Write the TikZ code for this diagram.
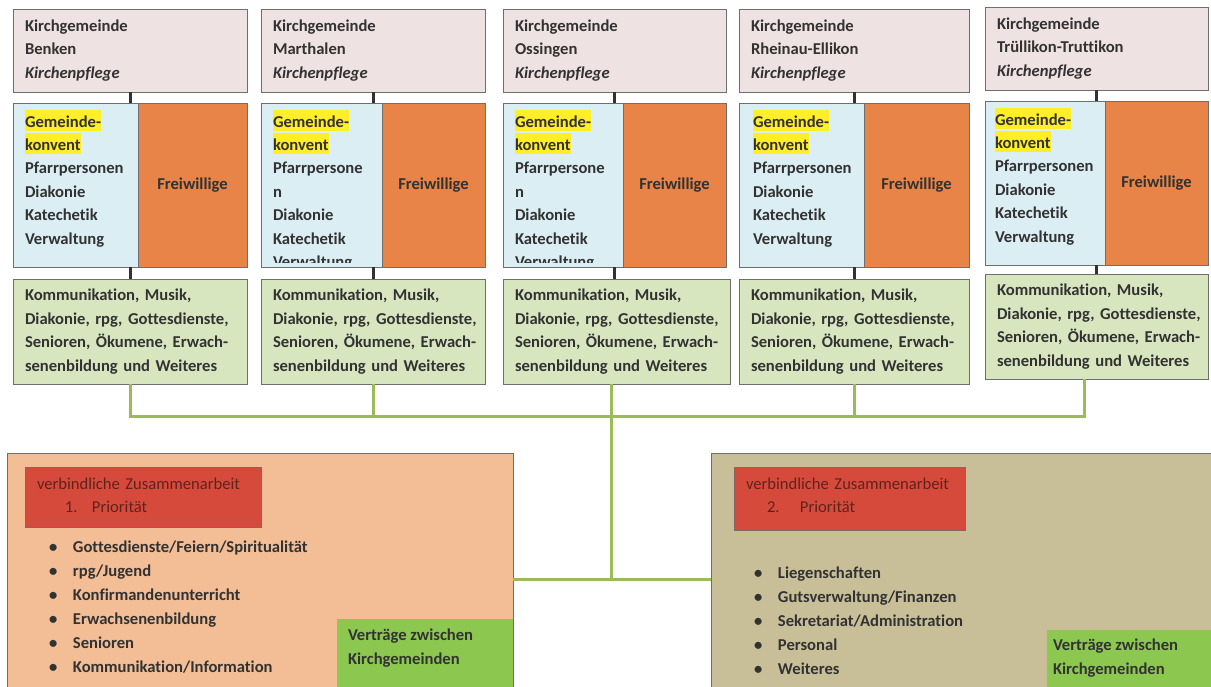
\documentclass[tikz,border=0pt]{standalone}
\usepackage{fontspec}
\setmainfont{Carlito}[Ligatures=NoCommon]
\usetikzlibrary{positioning}

\definecolor{pflege}{RGB}{239,226,226}
\definecolor{konvent}{RGB}{219,238,244}
\definecolor{freiwillig}{RGB}{233,132,72}
\definecolor{aufgabe}{RGB}{216,230,192}
\definecolor{prioA}{RGB}{243,190,150}
\definecolor{prioB}{RGB}{200,191,152}
\definecolor{titelrot}{RGB}{214,74,60}
\definecolor{vertrag}{RGB}{140,200,80}
\definecolor{busgruen}{RGB}{155,187,89}
\definecolor{rahmen}{RGB}{110,110,110}
\definecolor{textgrau}{RGB}{50,50,50}
\definecolor{titeltext}{RGB}{95,35,30}
\definecolor{gelb}{RGB}{255,238,40}

\newcommand{\markgelb}[1]{{\setlength{\fboxsep}{0pt}\colorbox{gelb}{\rule[-4pt]{0pt}{21pt}#1}}}
\newcommand{\punkt}{\makebox[24pt][l]{•}}
\newcommand{\aufgaben}{\mbox{Kommunikation, Musik,}\\\mbox{Diakonie, rpg, Gottesdienste,}\\\mbox{Senioren, Ökumene, Erwach-}\\\mbox{senenbildung und Weiteres}}

\begin{document}
\begin{tikzpicture}[x=1pt, y=-1pt, every node/.style={font=\fontsize{16.6}{23.4}\selectfont\bfseries, text=textgrau, outer sep=0pt}]
	\tikzstyle{Pflege} = [draw=rahmen, fill=pflege, minimum height=83pt, inner xsep=12pt, align=left, anchor=north west]
	\tikzstyle{Konvent} = [draw=rahmen, fill=konvent, minimum height=164pt]
	\tikzstyle{Freiwillig} = [draw=rahmen, fill=freiwillig, minimum height=164pt]
	\tikzstyle{Aufgabe} = [draw=rahmen, fill=aufgabe, minimum height=105pt, inner xsep=12pt, align=left]
	\tikzstyle{Klartext} = [inner sep=0pt, align=left]
	\tikzstyle{Prio} = [draw=rahmen, minimum height=247pt, anchor=north west]
	\tikzstyle{Titel} = [draw=rahmen!80!titelrot, fill=titelrot, inner xsep=12pt, inner ysep=10.5pt, align=left, anchor=north west, font=\fontsize{16.6}{23.4}\selectfont\mdseries, text=titeltext]
	\tikzstyle{Liste} = [inner sep=0pt, align=left, font=\fontsize{16.6}{24}\selectfont\bfseries]
	\tikzstyle{Vertrag} = [fill=vertrag, minimum height=80pt, anchor=north west]
	\tikzstyle{Strich} = [draw=textgrau, line width=3pt]
	\tikzstyle{Bus} = [draw=busgruen, line width=3pt]

	\useasboundingbox[fill=white] (0,0) rectangle (1211,686);

	\node[name=kg1, Pflege, text width=210pt] at (13,9) {Kirchgemeinde\\Benken\\\textit{Kirchenpflege}};
	\node[name=gk1, Konvent, below=11pt of kg1.south west, anchor=north west, minimum width=125pt]{};
	\node[name=fw1, Freiwillig, right=0pt of gk1, minimum width=109pt]{Freiwillige};
	\node[name=ak1, Aufgabe, below=12pt of gk1.south west, anchor=north west, text width=210pt]{\aufgaben};
	\node[name=kt1, Klartext, below right=7pt and 12pt of gk1.north west]{\markgelb{Gemeinde-}\\\markgelb{konvent}\\Pfarrpersonen\\Diakonie\\Katechetik\\Verwaltung};

	\node[name=kg2, Pflege, text width=200pt] at (261,9) {Kirchgemeinde\\Marthalen\\\textit{Kirchenpflege}};
	\node[name=gk2, Konvent, below=11pt of kg2.south west, anchor=north west, minimum width=121pt]{};
	\node[name=fw2, Freiwillig, right=0pt of gk2, minimum width=103pt]{Freiwillige};
	\node[name=ak2, Aufgabe, below=12pt of gk2.south west, anchor=north west, text width=200pt]{\aufgaben};
	\begin{scope}
		\clip ([yshift=5pt]gk2.south west) rectangle (gk2.north east);
		\node[name=kt2, Klartext, below right=7pt and 12pt of gk2.north west]{\markgelb{Gemeinde-}\\\markgelb{konvent}\\Pfarrpersone\\n\\Diakonie\\Katechetik\\Verwaltung};
	\end{scope}

	\node[name=kg3, Pflege, text width=199pt] at (503,9) {Kirchgemeinde\\Ossingen\\\textit{Kirchenpflege}};
	\node[name=gk3, Konvent, below=11pt of kg3.south west, anchor=north west, minimum width=120pt]{};
	\node[name=fw3, Freiwillig, right=0pt of gk3, minimum width=103pt]{Freiwillige};
	\node[name=ak3, Aufgabe, below=12pt of gk3.south west, anchor=north west, text width=203pt]{\aufgaben};
	\begin{scope}
		\clip ([yshift=5pt]gk3.south west) rectangle (gk3.north east);
		\node[name=kt3, Klartext, below right=7pt and 12pt of gk3.north west]{\markgelb{Gemeinde-}\\\markgelb{konvent}\\Pfarrpersone\\n\\Diakonie\\Katechetik\\Verwaltung};
	\end{scope}

	\node[name=kg4, Pflege, text width=206pt] at (739,9) {Kirchgemeinde\\Rheinau-Ellikon\\\textit{Kirchenpflege}};
	\node[name=gk4, Konvent, below=11pt of kg4.south west, anchor=north west, minimum width=125pt]{};
	\node[name=fw4, Freiwillig, right=0pt of gk4, minimum width=105pt]{Freiwillige};
	\node[name=ak4, Aufgabe, below=12pt of gk4.south west, anchor=north west, text width=206pt]{\aufgaben};
	\node[name=kt4, Klartext, below right=7pt and 14pt of gk4.north west]{\markgelb{Gemeinde-}\\\markgelb{konvent}\\Pfarrpersonen\\Diakonie\\Katechetik\\Verwaltung};

	\node[name=kg5, Pflege, text width=199pt] at (985,7) {Kirchgemeinde\\Trüllikon-Truttikon\\\textit{Kirchenpflege}};
	\node[name=gk5, Konvent, below=11pt of kg5.south west, anchor=north west, minimum width=120pt]{};
	\node[name=fw5, Freiwillig, right=0pt of gk5, minimum width=103pt]{Freiwillige};
	\node[name=ak5, Aufgabe, below=9pt of gk5.south west, anchor=north west, text width=199pt]{\aufgaben};
	\node[name=kt5, Klartext, below right=7pt and 10pt of gk5.north west]{\markgelb{Gemeinde-}\\\markgelb{konvent}\\Pfarrpersonen\\Diakonie\\Katechetik\\Verwaltung};

	\draw[Strich] (kg1.south) -- (kg1.south |- gk1.north);
	\draw[Strich] (kg2.south) -- (kg2.south |- gk2.north);
	\draw[Strich] (kg3.south) -- (kg3.south |- gk3.north);
	\draw[Strich] (kg4.south) -- (kg4.south |- gk4.north);
	\draw[Strich] (kg5.south) -- (kg5.south |- gk5.north);
	\draw[Strich] (ak1.north) -- (ak1.north |- gk1.south);
	\draw[Strich] (ak2.north) -- (ak2.north |- gk2.south);
	\draw[Strich] (kg3.south |- ak3.north) -- (kg3.south |- gk3.south);
	\draw[Strich] (kg4.south |- ak4.north) -- (kg4.south |- gk4.south);
	\draw[Strich] (kg5.south |- ak5.north) -- (kg5.south |- gk5.south);

	\node[name=prio1, Prio, fill=prioA, minimum width=506pt] at (7,453) {};
	\node[name=titel1, Titel, text width=212pt] at (25,467) {verbindliche Zusammenarbeit\\\hspace*{28pt}\makebox[27pt][l]{1.}Priorität\rule[-4.6pt]{0pt}{1pt}};
	\node[name=liste1, Liste, anchor=north west] at (49,541) {\punkt Gottesdienste/Feiern/Spiritualität\\\punkt rpg/Jugend\\\punkt Konfirmandenunterricht\\\punkt Erwachsenenbildung\\\punkt Senioren\\\punkt Kommunikation/Information};
	\node[name=vt1, Vertrag, minimum width=176pt] at (337,619) {};
	\node[name=vtt1, Klartext, below right=10pt and 11pt of vt1.north west]{Verträge zwischen\\Kirchgemeinden};

	\node[name=prio2, Prio, fill=prioB, minimum width=510pt] at (711,453) {};
	\node[name=titel2, Titel, text width=207pt] at (734,467) {verbindliche Zusammenarbeit\\\hspace*{21pt}\makebox[33pt][l]{2.}Priorität\rule[-7.6pt]{0pt}{1pt}};
	\node[name=liste2, Liste, anchor=north west] at (754,567) {\punkt Liegenschaften\\\punkt Gutsverwaltung/Finanzen\\\punkt Sekretariat/Administration\\\punkt Personal\\\punkt Weiteres};
	\node[name=vt2, Vertrag, minimum width=170pt] at (1047,630) {};
	\node[name=vtt2, Klartext, below right=9pt and 6pt of vt2.north west]{Verträge zwischen\\Kirchgemeinden};

	\coordinate (bus) at (611,416);
	\coordinate (ende) at (1084,416);
	\coordinate (knoten) at (611,579);
	\draw[Bus] (ak1.south) |- (ende) -- (ende |- ak5.south);
	\draw[Bus] (ak2.south) -- (ak2.south |- bus);
	\draw[Bus] (ak4.south) -- (ak4.south |- bus);
	\draw[Bus] (bus |- ak3.south) -- (knoten);
	\draw[Bus] (prio1.east |- knoten) -- (prio2.west |- knoten);
\end{tikzpicture}
\end{document}
